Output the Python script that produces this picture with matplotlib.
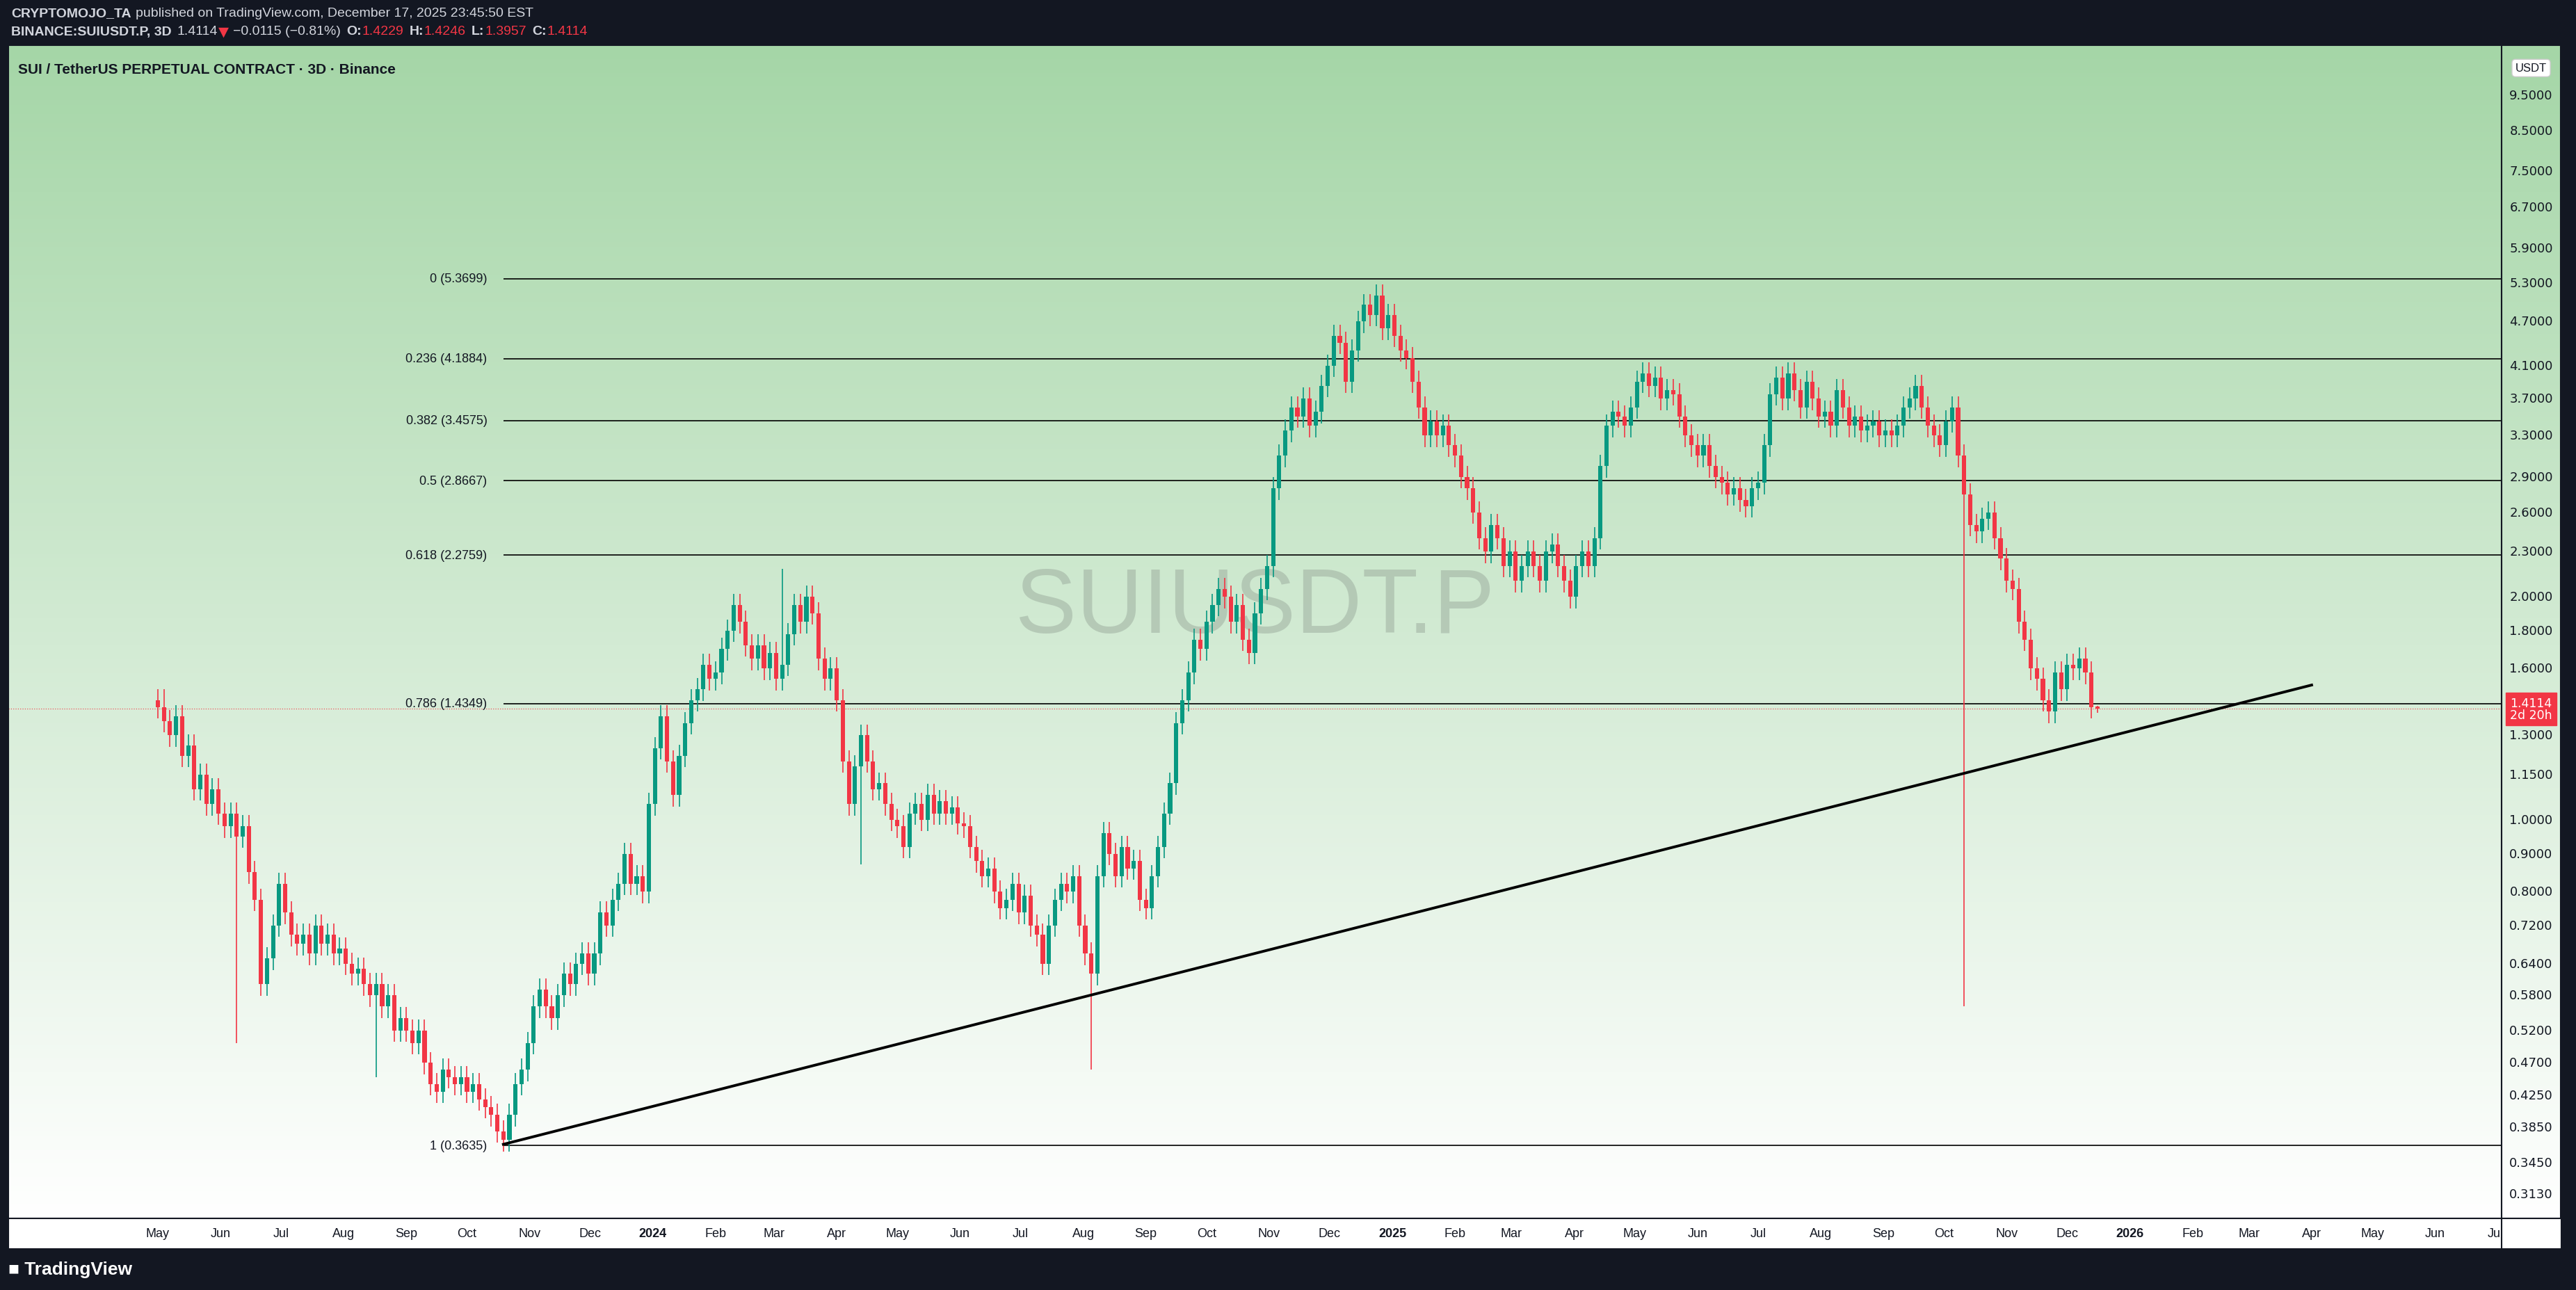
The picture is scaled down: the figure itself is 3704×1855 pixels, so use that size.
import numpy as np
import pandas as pd
import matplotlib
matplotlib.use("Agg")
import matplotlib.pyplot as plt
import matplotlib.dates as mdates
from matplotlib.colors import LinearSegmentedColormap

plt.rcParams['font.family'] = ['Liberation Sans', 'DejaVu Sans']

# ---------------- data ----------------
closes = [
 # May 2023
 1.42, 1.36, 1.30, 1.38, 1.22, 1.26, 1.10, 1.15, 1.05, 1.10, 1.02, 0.98, 1.02, 0.95,
 # Jun
 0.98, 0.85, 0.78, 0.60, 0.65, 0.72, 0.82, 0.75, 0.70,
 # Jul
 0.68, 0.70, 0.66, 0.72, 0.68, 0.70, 0.66, 0.67, 0.64,
 # Aug
 0.62, 0.63, 0.60, 0.58, 0.60, 0.56, 0.58, 0.52, 0.54, 0.52,
 # Sep
 0.50, 0.52, 0.47, 0.44, 0.43, 0.46, 0.45, 0.44, 0.45,
 # Oct
 0.43, 0.44, 0.42, 0.41, 0.40, 0.38, 0.37, 0.40, 0.44, 0.46,
 # Nov
 0.50, 0.56, 0.59, 0.56, 0.54, 0.58, 0.62, 0.60, 0.64, 0.66,
 # Dec
 0.62, 0.66, 0.75, 0.72, 0.78, 0.82, 0.90, 0.82, 0.84, 0.80,
 # Jan 2024
 1.05, 1.25, 1.38, 1.20, 1.08, 1.22, 1.35, 1.45, 1.50, 1.62,
 # Feb
 1.55, 1.58, 1.70, 1.80, 1.95, 1.85, 1.72, 1.65, 1.72, 1.60,
 # Mar
 1.68, 1.55, 1.62, 1.78, 1.95, 1.85, 2.00, 1.90, 1.65, 1.55,
 # Apr
 1.60, 1.45, 1.20, 1.05, 1.18, 1.30, 1.20, 1.10, 1.12, 1.05,
 # May
 1.00, 0.98, 0.92, 1.02, 1.05, 1.00, 1.08, 1.02, 1.06, 1.02, 1.04, 0.99,
 # Jun
 0.98, 0.92, 0.88, 0.84, 0.86, 0.80, 0.76, 0.78, 0.82, 0.75, 0.79, 0.72,
 # Jul
 0.70, 0.64, 0.72, 0.78, 0.82, 0.80, 0.84, 0.72, 0.66, 0.62,
 # Aug
 0.84, 0.96, 0.90, 0.84, 0.92, 0.86, 0.88, 0.78, 0.76, 0.84,
 # Sep
 0.92, 1.02, 1.12, 1.35, 1.45, 1.58, 1.75, 1.70, 1.85, 1.95,
 # Oct
 2.05, 2.00, 1.85, 1.95, 1.75, 1.68, 1.90, 2.05, 2.20, 2.80,
 # Nov
 3.10, 3.35, 3.60, 3.50, 3.70, 3.40, 3.55, 3.85, 4.10, 4.50,
 # Dec
 4.40, 3.90, 4.30, 4.70, 4.95, 4.80, 5.10, 4.60, 4.80, 4.50,
 # Jan 2025
 4.30, 4.20, 3.90, 3.60, 3.30, 3.45, 3.30, 3.40, 3.20, 3.10,
 # Feb
 2.90, 2.80, 2.60, 2.40, 2.30, 2.50, 2.40, 2.20, 2.30, 2.10,
 # Mar
 2.20, 2.30, 2.20, 2.10, 2.30, 2.35, 2.20, 2.10, 2.00, 2.20,
 # Apr
 2.30, 2.20, 2.40, 3.00, 3.40, 3.55, 3.50, 3.40, 3.60, 3.90,
 # May
 4.00, 3.85, 3.95, 3.70, 3.80, 3.75, 3.50, 3.30, 3.20, 3.10,
 # Jun
 3.20, 3.00, 2.90, 2.85, 2.75, 2.80, 2.70, 2.65, 2.80, 2.85,
 # Jul
 3.20, 3.75, 3.95, 3.70, 4.00, 3.80, 3.60, 3.90, 3.70, 3.50,
 # Aug
 3.55, 3.40, 3.80, 3.60, 3.40, 3.50, 3.35, 3.40, 3.45, 3.30,
 # Sep
 3.35, 3.30, 3.40, 3.60, 3.70, 3.85, 3.60, 3.40, 3.30, 3.20,
 # Oct
 3.45, 3.60, 3.10, 2.75, 2.50, 2.45, 2.55, 2.60, 2.40, 2.25,
 # Nov
 2.10, 2.05, 1.85, 1.75, 1.60, 1.55, 1.45, 1.40, 1.58, 1.50,
 # Dec
 1.62, 1.60, 1.65, 1.58, 1.42, 1.4114,
]
first_open = 1.45
last_date = pd.Timestamp("2025-12-16")
last_ohlc = (1.4229, 1.4246, 1.3957, 1.4114)
spike_lows = {"2025-10-10": 0.56, "2024-08-05": 0.46, "2024-04-13": 0.87,
              "2023-06-10": 0.50, "2023-08-17": 0.45}
spike_highs = {"2024-03-06": 2.18, "2023-05-03": 1.50}

fib_ratios = ["0", "0.236", "0.382", "0.5", "0.618", "0.786", "1"]
fib_prices = [5.3699, 4.1884, 3.4575, 2.8667, 2.2759, 1.4349, 0.3635]
fib_start = "2023-10-19"

trend_dates = ["2023-10-19", "2026-04-01"]
trend_prices = [0.365, 1.52]

yticks = [9.5, 8.5, 7.5, 6.7, 5.9, 5.3, 4.7, 4.1, 3.7, 3.3, 2.9, 2.6, 2.3, 2.0, 1.8,
          1.6, 1.45, 1.3, 1.15, 1.0, 0.9, 0.8, 0.72, 0.64, 0.58, 0.52, 0.47, 0.425,
          0.385, 0.345, 0.313]

month_ticks = pd.date_range("2023-05-01", "2026-07-01", freq="MS")

# ---------------- figure ----------------
W, H = 3705, 1856
fig = plt.figure(figsize=(W / 100, H / 100), dpi=100, facecolor="#131722")
L, R, T, B = 12, 3597, 66, 1753
ax = fig.add_axes([L / W, 1 - B / H, (R - L) / W, (B - T) / H])
ax.set_yscale("log")
ymin, ymax = 0.290, 11.09
ax.set_ylim(ymin, ymax)
xmin = mdates.date2num(pd.Timestamp("2023-02-16"))
xmax = mdates.date2num(pd.Timestamp("2026-07-04"))
ax.set_xlim(xmin, xmax)

cmap = LinearSegmentedColormap.from_list("bg", ["#ffffff", "#a5d6a7"])
grad = np.linspace(0, 1, 256).reshape(-1, 1)
ax.imshow(grad, cmap=cmap, aspect="auto", extent=[0, 1, 0, 1], origin="lower",
          transform=ax.transAxes, zorder=0)

n = len(closes)
dates = pd.DatetimeIndex([last_date - pd.Timedelta(days=3 * (n - 1 - i)) for i in range(n)])
x = mdates.date2num(dates)
opens = [first_open] + closes[:-1]
opens[-1] = last_ohlc[0]
highs = [max(o, c) * 1.035 for o, c in zip(opens, closes)]
lows = [min(o, c) * 0.965 for o, c in zip(opens, closes)]
def nearest(d):
    return int(np.argmin(np.abs((dates - pd.Timestamp(d)).days)))
for d, v in spike_lows.items():
    lows[nearest(d)] = v
for d, v in spike_highs.items():
    highs[nearest(d)] = v
highs[-1], lows[-1] = last_ohlc[1], last_ohlc[2]

up, dn = "#089981", "#f23645"
for xi, o, c, h, l in zip(x, opens, closes, highs, lows):
    col = up if c >= o else dn
    ax.vlines(xi, l, h, color=col, lw=1.2, zorder=3)
    ax.bar(xi, abs(c - o) if abs(c - o) > 0.002 else 0.003, bottom=min(o, c),
           width=2.1, color=col, zorder=4, linewidth=0)

fx = mdates.date2num(pd.Timestamp(fib_start))
for r, p in zip(fib_ratios, fib_prices):
    ax.hlines(p, fx, xmax, color="#000000", lw=1.2, zorder=2)
    ax.text(fx - 8, p, f"{r} ({p:.4f})", ha="right", va="center", fontsize=13,
            color="#131722", zorder=5)

ax.axhline(closes[-1], color=dn, lw=0.8, ls=(0, (1, 2)), zorder=2)

tx = mdates.date2num(pd.to_datetime(trend_dates))
ax.plot(tx, trend_prices, color="#000000", lw=2.8, zorder=6)

ax.text(0.5, 0.52, "SUIUSDT.P", transform=ax.transAxes, ha="center", va="center",
        fontsize=95, color="#9aaa9c", alpha=0.5, zorder=1)

ax.text(0.004, 0.985, "SUI / TetherUS PERPETUAL CONTRACT · 3D · Binance",
        transform=ax.transAxes, ha="left", va="top", fontsize=15, color="#131722",
        fontweight="bold")

ax.set_xticks([]); ax.set_yticks([]); ax.minorticks_off()
for s in ax.spines.values():
    s.set_color("#131722"); s.set_linewidth(1.5)

# right price scale
axr = fig.add_axes([R / W, 1 - B / H, (3682 - R) / W, (B - T) / H])
axr.set_yscale("log")
axr.set_ylim(ymin, ymax)
axr.set_xlim(0, 1)
axr.imshow(grad, cmap=cmap, aspect="auto", extent=[0, 1, 0, 1], origin="lower",
           transform=axr.transAxes, zorder=0)
for t in yticks:
    if t == 1.45:
        continue  # hidden behind the live price tag
    axr.text(0.5, t, f"{t:.4f}", ha="center", va="center", fontsize=13,
             color="#131722", family=["DejaVu Sans"])
axr.text(0.5, 0.985, "USDT", transform=axr.transAxes, ha="center", va="top",
         fontsize=12, color="#131722",
         bbox=dict(boxstyle="round,pad=0.3", fc="white", ec="#cccccc"))
axr.text(0.5, closes[-1], "1.4114\n2d 20h", ha="center", va="center", fontsize=12.5,
         color="white", linespacing=0.9, family=["DejaVu Sans"],
         bbox=dict(boxstyle="square,pad=0.35", fc=dn, ec=dn), zorder=5)
axr.set_xticks([]); axr.set_yticks([]); axr.minorticks_off()
for s in axr.spines.values():
    s.set_color("#131722"); s.set_linewidth(1.5)

# time axis strip
axt = fig.add_axes([L / W, 1 - 1796 / H, (3682 - L) / W, (1796 - B) / H])
axt.set_facecolor("white")
axt.set_xlim(xmin, xmin + (xmax - xmin) * (3682 - L) / (R - L))
axt.set_ylim(0, 1)
for ts in month_ticks:
    lab = str(ts.year) if ts.month == 1 else ts.strftime("%b")
    axt.text(mdates.date2num(ts), 0.5, lab, ha="center", va="center", fontsize=13,
             color="#131722", fontweight="bold" if ts.month == 1 else "normal")
axt.axvline(xmax, color="#131722", lw=1.5)
axt.set_xticks([]); axt.set_yticks([])
for s in axt.spines.values():
    s.set_color("#131722")

# header, laid out sequentially
renderer = fig.canvas.get_renderer()
def line(parts, ypix, x0=16, fs=14):
    xp = x0
    for s, col, bold, gap in parts:
        t = fig.text(xp / W, 1 - ypix / H, s, fontsize=fs, color=col, va="center",
                     fontweight="bold" if bold else "normal",
                     family=["DejaVu Sans"] if s == "▼" else None)
        bb = t.get_window_extent(renderer)
        xp += bb.width + gap
g = "#d1d4dc"
line([("CRYPTOMOJO_TA", g, True, 6),
      ("published on TradingView.com, December 17, 2025 23:45:50 EST", g, False, 0)], 20)
line([("BINANCE:SUIUSDT.P, 3D", g, True, 8), ("1.4114", g, False, 1), ("▼", dn, False, 6),
      ("−0.0115 (−0.81%)", g, False, 8), ("O:", g, True, 1), ("1.4229", dn, False, 8),
      ("H:", g, True, 1), ("1.4246", dn, False, 8), ("L:", g, True, 1),
      ("1.3957", dn, False, 8), ("C:", g, True, 1), ("1.4114", dn, False, 0)], 46)

fig.text(12 / W, 1 - 1826 / H, "\u25A0 TradingView", fontsize=19, color="white",
         fontweight="bold", va="center")

fig.savefig("out.png", dpi=100, facecolor=fig.get_facecolor())
